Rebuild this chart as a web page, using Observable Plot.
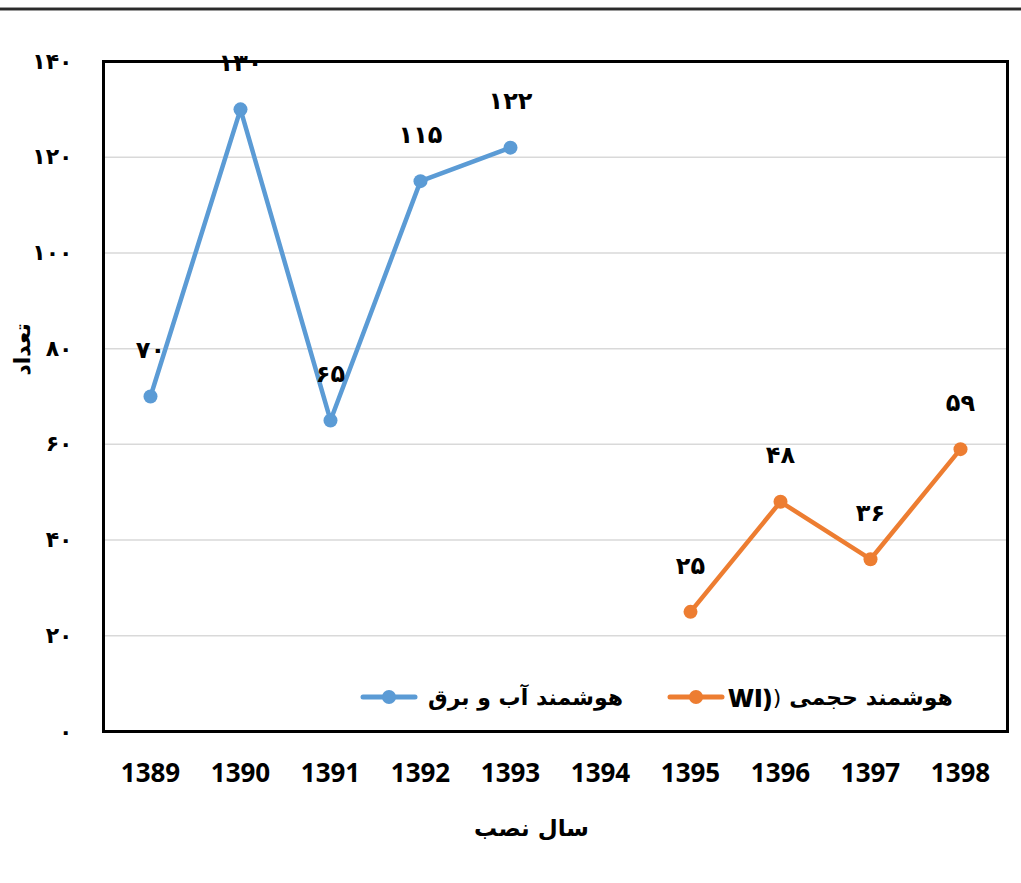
<!DOCTYPE html>
<html>
<head>
<meta charset="utf-8">
<script src="https://cdn.jsdelivr.net/npm/d3@7"></script>
<script src="https://cdn.jsdelivr.net/npm/@observablehq/plot@0.6"></script>
<style>
  html, body { margin: 0; padding: 0; background: white; }
  #wrap { position: relative; width: 1021px; height: 883px; overflow: hidden; }
  #topline { position: absolute; left: 0; top: 7px; width: 1021px; height: 4px; background: #2b2b2b; border-top: 1px solid #9a9a9a; border-bottom: 1px solid #9a9a9a; box-sizing: border-box; }
  .leg { position: absolute; top: 682px; height: 30px; display: flex; align-items: center; font-family: "DejaVu Sans"; font-weight: bold; font-size: 22px; color: #000; white-space: nowrap; }
  .leg svg { display: block; }
  .lat { font-family: "Open Sans", "Liberation Sans"; font-weight: 800; font-size: 25px; unicode-bidi: isolate; direction: ltr; }
  .par { font-family: "DejaVu Sans"; font-weight: normal; font-size: 22px; unicode-bidi: isolate; direction: ltr; }
  .fa { unicode-bidi: isolate; direction: rtl; }
</style>
</head>
<body>
<div id="wrap">
  <div id="topline"></div>
  <div id="chart"></div>
</div>
<script>
// ---- data ----
const years = ["1389", "1390", "1391", "1392", "1393", "1394", "1395", "1396", "1397", "1398"];
const blueYears = ["1389", "1390", "1391", "1392", "1393"];
const blueValues = [70, 130, 65, 115, 122];
const orangeYears = ["1395", "1396", "1397", "1398"];
const orangeValues = [25, 48, 36, 59];
const yTicks = [0, 20, 40, 60, 80, 100, 120, 140];
const blueName = "هوشمند آب و برق";
const orangeNameFa = "هوشمند حجمی";
const orangeNameLat = "WI)";
const xTitle = "سال نصب";
const yTitle = "تعداد";

const blueColor = "#5b9bd5";
const orangeColor = "#ed7d31";

const toFa = n => String(n).replace(/\d/g, d => "۰۱۲۳۴۵۶۷۸۹"[d]);

const blue = blueYears.map((y, i) => ({year: y, value: blueValues[i]}));
const orange = orangeYears.map((y, i) => ({year: y, value: orangeValues[i]}));
const all = blue.concat(orange);
const gridTicks = yTicks.filter(t => t > 0 && t < 140);

const plot = Plot.plot({
  width: 1021,
  height: 883,
  marginLeft: 103,
  marginRight: 14,
  marginTop: 61,
  marginBottom: 152,
  style: {fontFamily: "DejaVu Sans", background: "white", color: "black"},
  x: {type: "point", domain: years, padding: 0.5},
  y: {domain: [0, 140]},
  marks: [
    Plot.ruleY(gridTicks, {stroke: "#d9d9d9", strokeWidth: 1.5}),
    Plot.axisY({ticks: yTicks, tickSize: 0, tickPadding: 31, tickFormat: toFa, fontSize: 22, fontWeight: "bold", fontFamily: "DejaVu Sans", label: null}),
    Plot.axisX({tickSize: 0, tickPadding: 32, fontSize: 26, fontWeight: "bold", fontFamily: "Open Sans", label: null}),
    Plot.line(blue, {x: "year", y: "value", stroke: blueColor, strokeWidth: 4.5}),
    Plot.dot(blue, {x: "year", y: "value", r: 7, fill: blueColor}),
    Plot.line(orange, {x: "year", y: "value", stroke: orangeColor, strokeWidth: 4.5}),
    Plot.dot(orange, {x: "year", y: "value", r: 7, fill: orangeColor}),
    Plot.text(all, {x: "year", y: "value", text: d => toFa(d.value), dy: -46, fontSize: 24, fontWeight: "bold", fill: "black"}),
    Plot.frame({stroke: "black", strokeWidth: 3}),
    Plot.text([xTitle], {frameAnchor: "bottom", text: d => d, dx: -24, dy: 104, fontSize: 23, fontWeight: "bold", fill: "black"}),
    Plot.text([yTitle], {frameAnchor: "left", text: d => d, dx: -81, dy: -21, rotate: -90, fontSize: 22, fontWeight: "bold", fill: "black"})
  ]
});
document.getElementById("chart").appendChild(plot);

// ---- legend (HTML overlay inside the plot area) ----
function legendSymbol(color) {
  return `<svg width="58" height="16"><line x1="3" y1="8" x2="55" y2="8" stroke="${color}" stroke-width="5" stroke-linecap="round"/><circle cx="29" cy="8" r="7" fill="${color}"/></svg>`;
}
const wrap = document.getElementById("wrap");
const l1 = document.createElement("div");
l1.className = "leg";
l1.style.left = "360px";
l1.innerHTML = legendSymbol(blueColor) + `<span class="fa" style="margin-left:10px">${blueName}</span>`;
wrap.appendChild(l1);
const l2 = document.createElement("div");
l2.className = "leg";
l2.style.left = "667px";
l2.innerHTML = legendSymbol(orangeColor) + `<span class="lat" style="margin-left:3px">${orangeNameLat}</span><span class="par" style="margin-left:1px">)</span><span class="fa" style="margin-left:8px">${orangeNameFa}</span>`;
wrap.appendChild(l2);
</script>
</body>
</html>
